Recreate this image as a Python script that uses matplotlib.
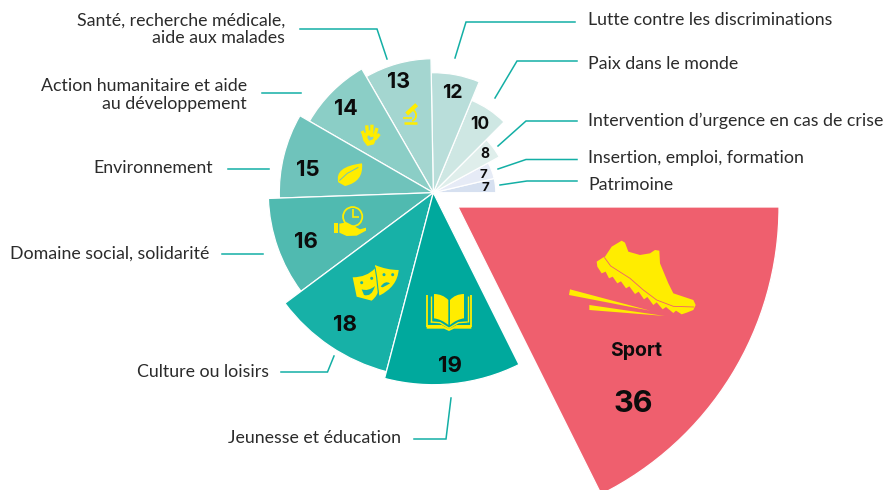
import matplotlib
matplotlib.use("Agg")
import matplotlib.pyplot as plt
from matplotlib.patches import Wedge, Polygon, PathPatch, Circle
from matplotlib.path import Path

# ---- data (counter-clockwise from the horizontal) ----
categories = ["Patrimoine", "Insertion, emploi, formation",
              "Intervention d\u2019urgence en cas de crise", "Paix dans le monde",
              "Lutte contre les discriminations",
              "Santé, recherche médicale,\naide aux malades",
              "Action humanitaire et aide\nau développement", "Environnement",
              "Domaine social, solidarité", "Culture ou loisirs",
              "Jeunesse et éducation", "Sport"]
values = [7, 7, 8, 10, 12, 13, 14, 15, 16, 18, 19, 36]
sweep_deg = [13.2, 15.3, 16.5, 22.5, 23.5, 29, 30, 32, 34.7, 38.6, 41.2, 63.5]
radius_px = [62.5, 62.5, 75, 100, 120, 134, 143, 154, 165, 185, 192, 321]

# ---- styles ----
colors = ["#D6E0F0", "#E6EBF6", "#DFEEEB", "#CEE7E3", "#B9DEDA", "#A4D6D0",
          "#8BCEC6", "#6FC3BB", "#50BAB0", "#17B1A7", "#00A99D", "#EF5F6E"]
YEL = "#FFED00"
TEAL = "#13AFA5"
INK = "#2b2b2b"
LABEL_FONT = ["Lato", "DejaVu Sans"]
NUM_FONT = ["Inter", "DejaVu Sans"]
centers = [(433.3, 192.7)] * 11 + [(458, 207)]
num_pos = [(485, 188), (483, 175), (485, 154), (480, 124), (452, 93), (399, 82),
           (346, 109), (308, 170), (306, 242), (345, 325), (450, 366), (633, 404)]
num_size = [9.5, 9.5, 10, 12.5, 14, 15.5, 15.5, 16, 16, 16, 16, 22]
label_pos = [(588, 184.5, "left"), (588, 158, "left"), (588, 121, "left"),
             (588, 64, "left"), (588, 20, "left"), (285, 29, "right"),
             (247, 95, "right"), (213, 168, "right"), (209, 254, "right"),
             (269, 372, "right"), (401, 438, "right"), None]
leaders = [[(500, 185), (527, 181), (577, 181)],
           [(498, 169), (526, 159.5), (577, 159.5)],
           [(498, 146), (526, 121), (577, 121)],
           [(495, 98), (517, 61), (577, 61)],
           [(455, 58), (466, 22), (575, 22)],
           [(300, 29), (377, 29), (387, 59)],
           [(262, 93), (301, 93)],
           [(228, 169), (269, 169)],
           [(222, 254), (263, 254)],
           [(281, 372), (327.5, 372), (334, 356)],
           [(414, 439), (446, 439), (451, 398)]]

fig = plt.figure(figsize=(8.89, 4.90), dpi=100)
ax = fig.add_axes([0, 0, 1, 1])
ax.set_xlim(0, 889)
ax.set_ylim(490, 0)
ax.axis("off")

# wedges, drawn from the smallest up; y axis points down, so angles are mirrored
start = 0.0
for val, sw, r, c, ctr in zip(values, sweep_deg, radius_px, colors, centers):
    ax.add_patch(Wedge(ctr, r, -(start + sw), -start, facecolor=c,
                       edgecolor="white", linewidth=0.9, zorder=2))
    start += sw

for val, (x, y), fs in zip(values, num_pos, num_size):
    ax.text(x, y, str(val), fontsize=fs, fontweight="bold", color="#0c0c0c",
            ha="center", va="center", family=NUM_FONT, zorder=6)
ax.text(636, 351, "Sport", fontsize=14, fontweight="bold", color="#0c0c0c",
        ha="center", va="center", family=NUM_FONT, zorder=6)

for cat, pos in zip(categories, label_pos):
    if pos is None:
        continue
    ax.text(pos[0], pos[1], cat, fontsize=12.75, color=INK, ha=pos[2], va="center",
            family=LABEL_FONT, linespacing=1.1, zorder=6)
for pts in leaders:
    ax.plot(*zip(*pts), color=TEAL, lw=1.1, solid_joinstyle="miter", zorder=3)


# ---- pictograms ----
def z1(p):
    return (p[0] / 3 + 260, p[1] / 3 + 50)


def z2(p):
    return (p[0] / 3 + 260, p[1] / 3 + 190)


def z3(p):
    return (p[0] / 3 + 540, p[1] / 3 + 220)


def poly(pts, f, color=YEL, z=5):
    ax.add_patch(Polygon([f(p) for p in pts], closed=True, facecolor=color,
                         edgecolor="none", zorder=z))


def curve(segs, f, color=YEL, z=5):
    verts, codes = [f(segs[0])], [Path.MOVETO]
    for s in segs[1:]:
        if len(s) == 2:
            verts.append(f(s)); codes.append(Path.LINETO)
        else:
            verts += [f((s[0], s[1])), f((s[2], s[3]))]
            codes += [Path.CURVE3, Path.CURVE3]
    verts.append(verts[0]); codes.append(Path.CLOSEPOLY)
    ax.add_patch(PathPatch(Path(verts, codes), facecolor=color, edgecolor="none", zorder=z))


def stroke(pts, f, lw=1.2, color=YEL, z=5):
    ax.plot(*zip(*[f(p) for p in pts]), color=color, lw=lw, zorder=z,
            solid_capstyle="butt", solid_joinstyle="miter")


# shoe
shoe = [(195, 110), (215, 80), (245, 62), (255, 68), (265, 95), (300, 105), (330, 100),
        (345, 90), (358, 92), (360, 130), (385, 190), (400, 220), (460, 240), (467, 255),
        (460, 270), (440, 278), (425, 283), (408, 272), (400, 279), (378, 261), (368, 268),
        (350, 247), (340, 255), (322, 231), (312, 238), (296, 215), (285, 222), (268, 199),
        (258, 205), (243, 184), (232, 190), (218, 170), (207, 175), (197, 155), (185, 160),
        (172, 140), (170, 125), (190, 112)]
poly(shoe, z3)
stroke([(193, 112), (212, 138), (270, 175), (310, 210), (350, 240), (400, 259), (462, 261)],
       z3, lw=0.6, color=colors[-1])
poly([(90, 208), (87, 225), (330, 272)], z3)
poly([(148, 255), (148, 270), (375, 288)], z3)

# book
curve([(522, 312), (548, 312, 565, 330), (565, 405), (545, 388, 522, 385)], z2)
curve([(612, 312), (586, 312, 570, 330), (570, 405), (590, 388, 612, 385)], z2)
for x in (512, 623):
    stroke([(x, 318), (x, 396)], z2, lw=1.0)
stroke([(512, 396), (540, 398), (567, 415), (595, 398), (623, 396)], z2, lw=1.0)
stroke([(502, 315), (502, 412)], z2, lw=1.3)
stroke([(632, 315), (632, 412)], z2, lw=1.3)
poly([(500, 405), (545, 405), (567, 417), (590, 405), (634, 405), (634, 416), (582, 416),
      (567, 423), (552, 416), (500, 416)], z2)

# theatre masks
curve([(345, 225), (380, 240, 416, 240), (412, 290, 358, 317), (350, 270)], z2)
curve([(278, 262), (320, 262, 345, 235), (375, 300, 335, 332), (290, 320)], z2)
stroke([(345, 232), (350, 262), (356, 318)], z2, lw=0.8, color=colors[9])
for p in [(305, 278), (335, 265), (372, 254), (398, 254)]:
    ax.add_patch(Circle(z2(p), 1.5, facecolor=colors[9], edgecolor="none", zorder=6))
curve([(305, 298), (325, 305, 345, 288), (335, 322, 312, 315)], z2, color=colors[9], z=6)
curve([(362, 290), (375, 270, 390, 280), (382, 285, 368, 292)], z2, color=colors[9], z=6)

# clock in a hand
cc = z2((278, 80))
ax.add_patch(Circle(cc, 9.6, facecolor="none", edgecolor=YEL, linewidth=1.3, zorder=5))
stroke([(278, 58), (278, 80), (298, 80)], z2, lw=1.2)
poly([(222, 98), (235, 98), (235, 130), (222, 130)], z2)
poly([(238, 101), (260, 97), (285, 110), (300, 118), (318, 113), (318, 122), (290, 137),
      (260, 138), (238, 128)], z2)

# leaf
curve([(235, 397), (222, 350, 306, 340), (312, 395, 255, 408)], z1)
stroke([(238, 392), (262, 370), (295, 352)], z1, lw=0.7, color=colors[7])

# hand with a heart
for a, b in [((315, 262), (306, 243)), ((323, 255), (320, 226)), ((335, 255), (336, 224)),
             ((343, 260), (351, 234)), ((345, 268), (358, 252))]:
    stroke([a, b], z1, lw=2.4)
curve([(306, 255), (330, 240), (350, 262), (342, 283), (322, 288), (310, 272)], z1)
curve([(328, 272), (317, 260, 326, 256), (333, 262), (345, 256, 338, 268)], z1,
      color=colors[6], z=6)

# microscope
stroke([(440, 192), (470, 164)], z1, lw=3.0)
stroke([(432, 218), (472, 218)], z1, lw=1.8)
stroke([(428, 204), (456, 204)], z1, lw=1.2)
ax.add_patch(Wedge(z1((450, 196)), 7, -80, 70, width=1.8, facecolor=YEL,
                   edgecolor="none", zorder=5))

fig.savefig("out.png", dpi=100)
